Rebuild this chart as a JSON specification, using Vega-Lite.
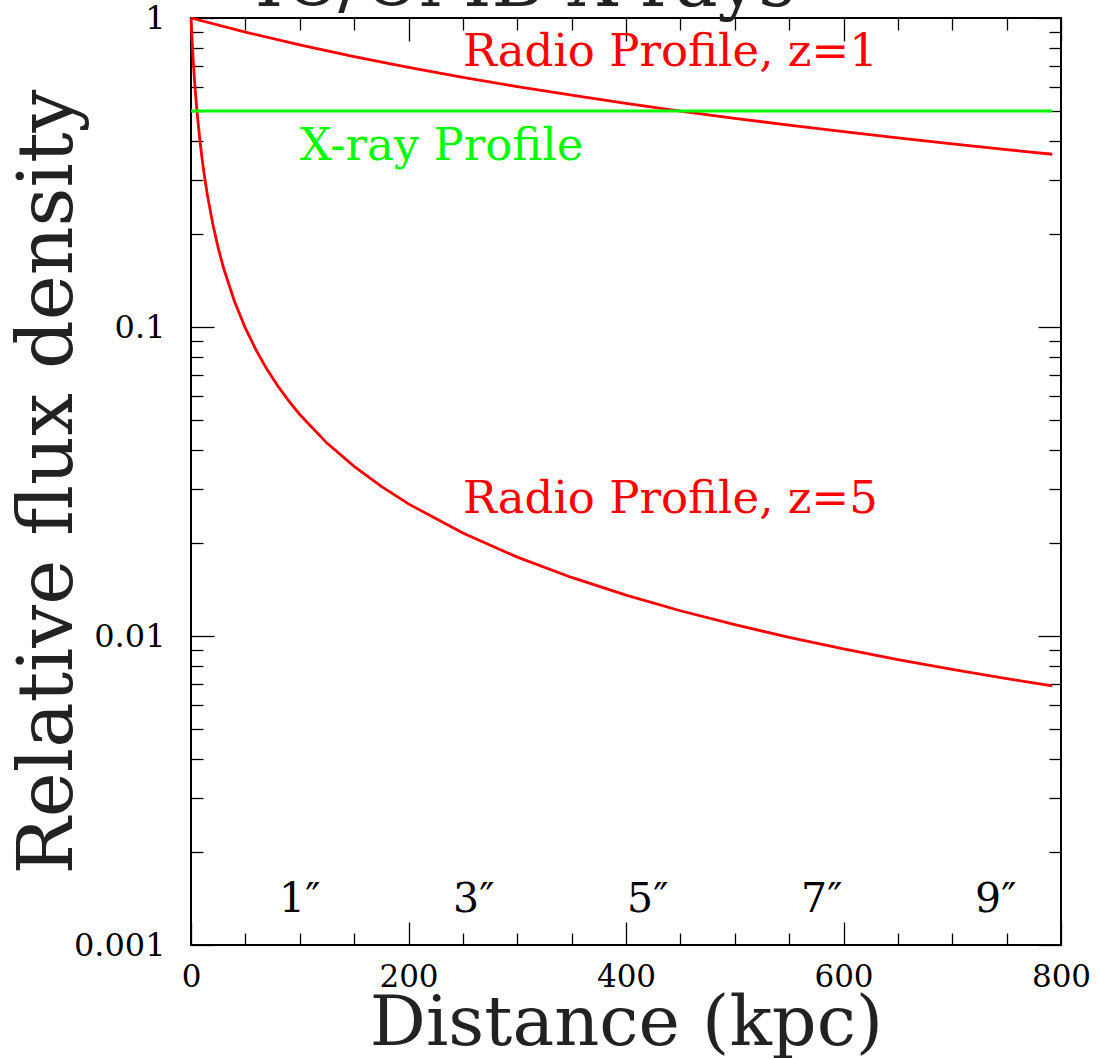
{
  "$schema": "https://vega.github.io/schema/vega-lite/v6.json",
  "width": 870,
  "height": 927,
  "autosize": {"type": "none"},
  "padding": {"left": 191, "top": 18, "right": 38, "bottom": 113},
  "background": "white",
  "title": {"text": "IC/CMB X-rays", "font": "DejaVu Serif", "fontSize": 72, "fontWeight": "normal", "color": "#222", "anchor": "middle", "dx": -101, "offset": 0, "dy": 19},
  "datasets": {
    "radio": [
      {"series": "z5", "d": 0, "flux": 1},
      {"series": "z5", "d": 1, "flux": 0.8462},
      {"series": "z5", "d": 2, "flux": 0.7333},
      {"series": "z5", "d": 3, "flux": 0.6471},
      {"series": "z5", "d": 4, "flux": 0.5789},
      {"series": "z5", "d": 5, "flux": 0.5238},
      {"series": "z5", "d": 6, "flux": 0.4783},
      {"series": "z5", "d": 8, "flux": 0.4074},
      {"series": "z5", "d": 10, "flux": 0.3548},
      {"series": "z5", "d": 12, "flux": 0.3143},
      {"series": "z5", "d": 15, "flux": 0.2683},
      {"series": "z5", "d": 20, "flux": 0.2157},
      {"series": "z5", "d": 25, "flux": 0.1803},
      {"series": "z5", "d": 30, "flux": 0.1549},
      {"series": "z5", "d": 40, "flux": 0.1209},
      {"series": "z5", "d": 50, "flux": 0.0991},
      {"series": "z5", "d": 60, "flux": 0.084},
      {"series": "z5", "d": 70, "flux": 0.0728},
      {"series": "z5", "d": 80, "flux": 0.0643},
      {"series": "z5", "d": 90, "flux": 0.0576},
      {"series": "z5", "d": 100, "flux": 0.0521},
      {"series": "z5", "d": 125, "flux": 0.0421},
      {"series": "z5", "d": 150, "flux": 0.0354},
      {"series": "z5", "d": 175, "flux": 0.0305},
      {"series": "z5", "d": 200, "flux": 0.02676},
      {"series": "z5", "d": 250, "flux": 0.02153},
      {"series": "z5", "d": 300, "flux": 0.018},
      {"series": "z5", "d": 350, "flux": 0.01547},
      {"series": "z5", "d": 400, "flux": 0.01356},
      {"series": "z5", "d": 450, "flux": 0.01207},
      {"series": "z5", "d": 500, "flux": 0.01088},
      {"series": "z5", "d": 550, "flux": 0.0099},
      {"series": "z5", "d": 600, "flux": 0.00908},
      {"series": "z5", "d": 650, "flux": 0.00839},
      {"series": "z5", "d": 700, "flux": 0.0078},
      {"series": "z5", "d": 750, "flux": 0.00728},
      {"series": "z5", "d": 792, "flux": 0.0069},
      {"series": "z1", "d": 0, "flux": 1},
      {"series": "z1", "d": 50, "flux": 0.9},
      {"series": "z1", "d": 100, "flux": 0.8182},
      {"series": "z1", "d": 150, "flux": 0.75},
      {"series": "z1", "d": 200, "flux": 0.6923},
      {"series": "z1", "d": 250, "flux": 0.6429},
      {"series": "z1", "d": 300, "flux": 0.6},
      {"series": "z1", "d": 350, "flux": 0.5625},
      {"series": "z1", "d": 400, "flux": 0.5294},
      {"series": "z1", "d": 450, "flux": 0.5},
      {"series": "z1", "d": 500, "flux": 0.4737},
      {"series": "z1", "d": 550, "flux": 0.45},
      {"series": "z1", "d": 600, "flux": 0.4286},
      {"series": "z1", "d": 650, "flux": 0.4091},
      {"series": "z1", "d": 700, "flux": 0.3913},
      {"series": "z1", "d": 750, "flux": 0.375},
      {"series": "z1", "d": 792, "flux": 0.3623}
    ],
    "xray": [
      {"d": 0, "flux": 0.5},
      {"d": 792, "flux": 0.5}
    ],
    "redlabels": [
      {"d": 250, "flux": 0.70, "label": "Radio Profile, z=1"},
      {"d": 250, "flux": 0.025, "label": "Radio Profile, z=5"}
    ],
    "greenlabels": [
      {"d": 100, "flux": 0.3467, "label": "X-ray Profile"}
    ],
    "angles": [
      {"d": 100, "flux": 0.00128, "label": "1″"},
      {"d": 260, "flux": 0.00128, "label": "3″"},
      {"d": 420, "flux": 0.00128, "label": "5″"},
      {"d": 580, "flux": 0.00128, "label": "7″"},
      {"d": 740, "flux": 0.00128, "label": "9″"}
    ]
  },
  "layer": [
    {
      "data": {"name": "radio"},
      "mark": {"type": "line", "color": "#ff0000", "strokeWidth": 2.8},
      "encoding": {
        "x": {"field": "d", "type": "quantitative", "scale": {"domain": [0, 800], "nice": false, "zero": false},
          "axis": {"orient": "bottom", "values": [0, 200, 400, 600, 800], "tickSize": -23, "labelPadding": 40, "labelBaseline": "top", "labelFontSize": 31, "format": "d",
            "title": "Distance (kpc)", "titleY": 99, "titleBaseline": "alphabetic", "titleFontSize": 70}},
        "y": {"field": "flux", "type": "quantitative", "scale": {"type": "log", "domain": [0.001, 1], "nice": false},
          "axis": {"orient": "left", "values": [0.001, 0.01, 0.1, 1], "tickSize": -23, "labelPadding": 49, "format": "~g",
            "title": "Relative flux density", "titleX": -120, "titleBaseline": "alphabetic", "titleFontSize": 76}},
        "detail": {"field": "series"}
      }
    },
    {
      "data": {"name": "xray"},
      "mark": {"type": "line", "color": "#00ff00", "strokeWidth": 2.8},
      "encoding": {
        "x": {"field": "d", "type": "quantitative", "scale": {"domain": [0, 800], "nice": false, "zero": false},
          "axis": {"orient": "bottom", "values": [50, 100, 150, 250, 300, 350, 450, 500, 550, 650, 700, 750], "tickSize": -12, "labels": false, "title": null}},
        "y": {"field": "flux", "type": "quantitative", "scale": {"type": "log", "domain": [0.001, 1], "nice": false},
          "axis": {"orient": "left", "values": [0.002, 0.003, 0.004, 0.005, 0.006, 0.007, 0.008, 0.009, 0.02, 0.03, 0.04, 0.05, 0.06, 0.07, 0.08, 0.09, 0.2, 0.3, 0.4, 0.5, 0.6, 0.7, 0.8, 0.9], "tickSize": -12, "labels": false, "title": null}}
      }
    },
    {
      "data": {"name": "redlabels"},
      "mark": {"type": "text", "color": "#ff0000", "font": "DejaVu Serif", "fontSize": 45, "align": "left", "baseline": "alphabetic"},
      "encoding": {
        "x": {"field": "d", "type": "quantitative", "scale": {"domain": [0, 800], "nice": false, "zero": false},
          "axis": {"orient": "top", "values": [0, 200, 400, 600, 800], "tickSize": -23, "labels": false, "title": null}},
        "y": {"field": "flux", "type": "quantitative", "scale": {"type": "log", "domain": [0.001, 1], "nice": false},
          "axis": {"orient": "right", "values": [0.001, 0.01, 0.1, 1], "tickSize": -23, "labels": false, "title": null}},
        "text": {"field": "label"}
      }
    },
    {
      "data": {"name": "greenlabels"},
      "mark": {"type": "text", "color": "#00ff00", "font": "DejaVu Serif", "fontSize": 45, "align": "left", "baseline": "alphabetic"},
      "encoding": {
        "x": {"field": "d", "type": "quantitative", "scale": {"domain": [0, 800], "nice": false, "zero": false},
          "axis": {"orient": "top", "values": [50, 100, 150, 250, 300, 350, 450, 500, 550, 650, 700, 750], "tickSize": -12, "labels": false, "title": null}},
        "y": {"field": "flux", "type": "quantitative", "scale": {"type": "log", "domain": [0.001, 1], "nice": false},
          "axis": {"orient": "right", "values": [0.002, 0.003, 0.004, 0.005, 0.006, 0.007, 0.008, 0.009, 0.02, 0.03, 0.04, 0.05, 0.06, 0.07, 0.08, 0.09, 0.2, 0.3, 0.4, 0.5, 0.6, 0.7, 0.8, 0.9], "tickSize": -12, "labels": false, "title": null}},
        "text": {"field": "label"}
      }
    },
    {
      "data": {"name": "angles"},
      "mark": {"type": "text", "color": "black", "font": "DejaVu Serif", "fontSize": 41, "align": "center", "baseline": "alphabetic"},
      "encoding": {
        "x": {"field": "d", "type": "quantitative", "scale": {"domain": [0, 800], "nice": false, "zero": false}, "axis": null},
        "y": {"field": "flux", "type": "quantitative", "scale": {"type": "log", "domain": [0.001, 1], "nice": false}, "axis": null},
        "text": {"field": "label"}
      }
    }
  ],
  "resolve": {"axis": {"x": "independent", "y": "independent"}},
  "config": {
    "view": {"stroke": "black", "strokeWidth": 2},
    "axis": {
      "domain": false, "grid": false, "tickColor": "black", "tickWidth": 1.3,
      "labelFont": "DejaVu Serif", "labelFontSize": 32, "labelColor": "black",
      "labelFlush": false, "labelOverlap": false, "labelBound": false,
      "titleFont": "DejaVu Serif", "titleFontSize": 70, "titleFontWeight": "normal", "titleColor": "#222"
    }
  }
}
